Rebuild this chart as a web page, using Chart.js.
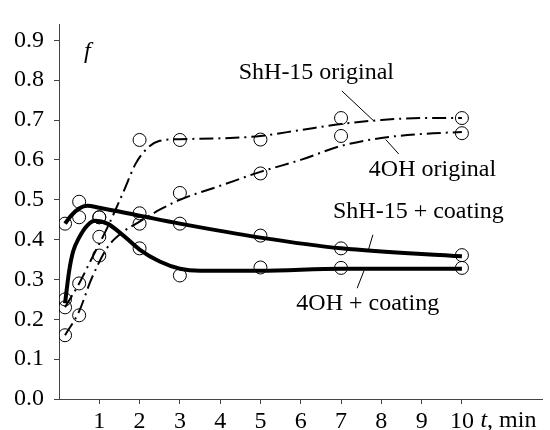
<!DOCTYPE html>
<html>
<head>
<meta charset="utf-8">
<script src="https://cdn.jsdelivr.net/npm/chart.js@4/dist/chart.umd.min.js"></script>
<style>
  html, body { margin: 0; padding: 0; background: #fff; }
  #wrap { width: 550px; height: 430px; }
</style>
</head>
<body>
<div id="wrap"><canvas id="c" width="550" height="430"></canvas></div>
<script>
// measured points (circles)
const tSample    = [0.15, 0.5, 1, 2, 3, 5, 7, 10];
const shhOrigPts = [0.23, 0.29, 0.407, 0.65, 0.65, 0.651, 0.705, 0.705];
const ohOrigPts  = [0.16, 0.21, 0.36, 0.44, 0.517, 0.566, 0.66, 0.667];
const shhCoatPts = [0.44, 0.495, 0.456, 0.466, 0.44, 0.41, 0.378, 0.361];
const ohCoatPts  = [0.25, 0.456, 0.456, 0.378, 0.31, 0.33, 0.329, 0.329];

// fitted curves
const shhOrigCurveX = [0.15, 0.5, 0.8, 1.2, 1.6, 1.9, 2.2, 2.5, 3, 4, 5, 6, 7, 8, 9, 10];
const shhOrigCurve  = [0.23, 0.29, 0.35, 0.43, 0.52, 0.59, 0.63, 0.648, 0.652, 0.654, 0.66, 0.675, 0.69, 0.70, 0.705, 0.705];
const ohOrigCurveX  = [0.15, 0.5, 0.8, 1.2, 1.6, 2, 2.5, 3, 4, 5, 6, 7, 8, 9, 10];
const ohOrigCurve   = [0.16, 0.22, 0.30, 0.38, 0.42, 0.445, 0.475, 0.50, 0.535, 0.57, 0.60, 0.635, 0.655, 0.665, 0.67];
const shhCoatCurveX = [0.15, 0.3, 0.5, 0.7, 1, 2, 3, 5, 7, 10];
const shhCoatCurve  = [0.44, 0.46, 0.478, 0.485, 0.48, 0.46, 0.44, 0.405, 0.378, 0.358];
const ohCoatCurveX  = [0.15, 0.25, 0.35, 0.5, 0.7, 0.9, 1.2, 1.6, 2, 2.5, 3, 3.5, 5, 7, 10];
const ohCoatCurve   = [0.24, 0.32, 0.37, 0.405, 0.435, 0.447, 0.44, 0.41, 0.375, 0.345, 0.327, 0.322, 0.322, 0.327, 0.327];

const xTicks = [1, 2, 3, 4, 5, 6, 7, 8, 9, 10];
const yTicks = [0, 0.1, 0.2, 0.3, 0.4, 0.5, 0.6, 0.7, 0.8, 0.9];

// curve labels: text, anchor (x, y baseline), leader line from/to
const labels = [
  { text: "ShH-15 original", x: 4.46, y: 0.802, lx1: 7.02, ly1: 0.773, lx2: 7.81, ly2: 0.698 },
  { text: "4OH original",    x: 7.69, y: 0.559, lx1: 8.43, ly1: 0.615, lx2: 8.11, ly2: 0.651 },
  { text: "ShH-15 + coating", x: 6.80, y: 0.454, lx1: 7.79, ly1: 0.412, lx2: 7.67, ly2: 0.371 },
  { text: "4OH + coating",   x: 5.89, y: 0.224, lx1: 7.57, ly1: 0.322, lx2: 7.40, ly2: 0.278 }
];

const FONT = '"Liberation Serif", "DejaVu Serif", serif';
const pairs = (xs, ys) => xs.map((x, i) => ({ x, y: ys[i] }));
const DASHDOT = [14, 5, 2, 5];

function curve(xs, ys, width, dash){
  return {
    type: "line", data: pairs(xs, ys),
    borderColor: "#000", borderWidth: width, borderDash: dash,
    pointRadius: 0, cubicInterpolationMode: "monotone", fill: false, order: 2
  };
}
function circles(ys){
  return {
    type: "scatter", data: pairs(tSample, ys),
    pointStyle: "circle", pointRadius: 6.5, borderWidth: 1,
    borderColor: "#000", backgroundColor: "rgba(0,0,0,0)", order: 1
  };
}

const annot = {
  id: "annot",
  afterDatasetsDraw(chart){
    const { ctx, scales: { x, y } } = chart;
    ctx.save();
    ctx.fillStyle = "#000";
    ctx.strokeStyle = "#000";
    ctx.lineWidth = 1;
    ctx.textBaseline = "alphabetic";
    ctx.textAlign = "left";
    ctx.font = "24px " + FONT;
    for (const l of labels) {
      ctx.beginPath();
      ctx.moveTo(x.getPixelForValue(l.lx1), y.getPixelForValue(l.ly1));
      ctx.lineTo(x.getPixelForValue(l.lx2), y.getPixelForValue(l.ly2));
      ctx.stroke();
      ctx.fillText(l.text, x.getPixelForValue(l.x), y.getPixelForValue(l.y));
    }
    // axis names
    ctx.font = "italic 24px " + FONT;
    ctx.fillText("f", x.getPixelForValue(0.62), y.getPixelForValue(0.856));
    const by = y.bottom + 28;
    const tx = x.getPixelForValue(10.46);
    ctx.fillText("t", tx, by);
    const tw = ctx.measureText("t").width;
    ctx.font = "24px " + FONT;
    ctx.fillText(", min", tx + tw, by);
    ctx.restore();
  }
};

new Chart(document.getElementById("c"), {
  data: {
    datasets: [
      curve(shhOrigCurveX, shhOrigCurve, 2, DASHDOT),
      curve(ohOrigCurveX, ohOrigCurve, 2, DASHDOT),
      curve(shhCoatCurveX, shhCoatCurve, 4, []),
      curve(ohCoatCurveX, ohCoatCurve, 4, []),
      circles(shhOrigPts), circles(ohOrigPts), circles(shhCoatPts), circles(ohCoatPts)
    ]
  },
  options: {
    responsive: false,
    animation: false,
    layout: { padding: { top: 14, right: 7, left: 0, bottom: 0 } },
    plugins: { legend: { display: false }, tooltip: { enabled: false } },
    scales: {
      x: {
        type: "linear", min: 0, max: 12,
        afterBuildTicks: s => { s.ticks = xTicks.map(v => ({ value: v })); },
        afterFit: s => { s.height = 31; },
        grid: { drawOnChartArea: false, tickLength: 5, color: "#444" },
        border: { color: "#444", width: 1 },
        ticks: { color: "#000", font: { family: FONT, size: 24 }, padding: 3, maxRotation: 0 }
      },
      y: {
        type: "linear", min: 0, max: 0.94,
        afterBuildTicks: s => { s.ticks = yTicks.map(v => ({ value: v })); },
        afterFit: s => { s.width = 59; },
        grid: { drawOnChartArea: false, tickLength: 5, color: "#444" },
        border: { color: "#444", width: 1 },
        ticks: { color: "#000", font: { family: FONT, size: 24 }, padding: 10,
                 callback: v => v.toFixed(1) }
      }
    }
  },
  plugins: [annot]
});
</script>
</body>
</html>
